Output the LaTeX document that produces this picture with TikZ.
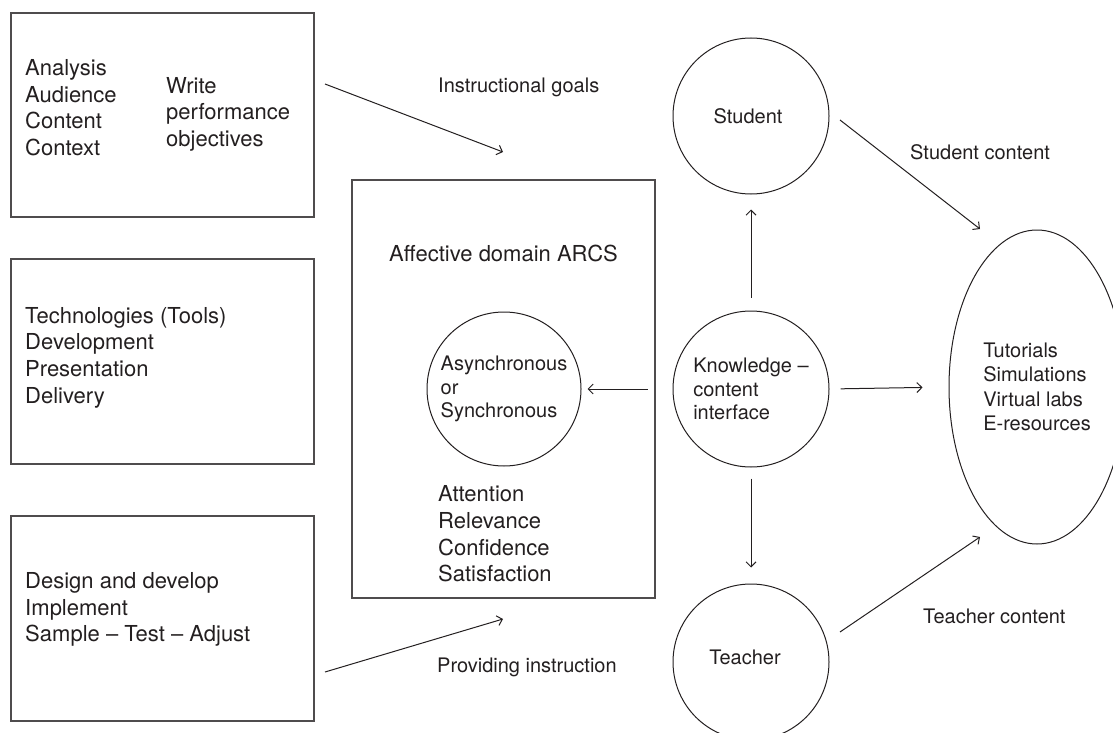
\documentclass[tikz,border=0pt]{standalone}
\usepackage{fontspec}
\setmainfont{TeX Gyre Heros}
\usetikzlibrary{shapes.geometric,arrows.meta}
\definecolor{ink}{HTML}{231F20}
\begin{document}
\begin{tikzpicture}[x=1pt,y=-1pt,
  conn/.style={draw=ink, line width=1pt, -{Straight Barb[length=5pt,width=10pt,line width=1pt]}},
  boxn/.style={draw=ink!80, line width=1.4pt, rectangle, inner sep=0},
  circ/.style={draw=ink, line width=1pt, circle, minimum size=156pt, inner sep=0, align=left, font=\fontsize{20}{23.8}\selectfont, text=ink},
  big/.style={font=\fontsize{22}{26.6}\selectfont, align=left, text=ink, inner sep=0},
  small/.style={font=\fontsize{20}{24}\selectfont, text=ink, inner sep=0}]
\useasboundingbox (0,0) rectangle (1113,733);
\clip (0,0) rectangle (1113,733);

% boxes
\node[boxn, minimum width=303pt, minimum height=204pt] (b1) at (162.5,115) {};
\node[boxn, minimum width=303pt, minimum height=205pt] (b2) at (162.5,361.5) {};
\node[boxn, minimum width=303pt, minimum height=205pt] (b3) at (162.5,618.5) {};
\node[boxn, minimum width=303pt, minimum height=418pt] (cb) at (503.5,389) {};

% box texts
\node[big, anchor=west] (t1a) at (25,107.5) {Analysis\\Audience\\Content\\Context};
\node[big, anchor=west] (t1b) at (166,114) {Write\\performance\\objectives};
\node[big, anchor=west] (t2) at (25,357.5) {Technologies (Tools)\\Development\\Presentation\\Delivery};
\node[big, anchor=west] (t3) at (25,609.5) {Design and develop\\Implement\\Sample -- Test -- Adjust};
\node[big] (arcs) at (503.5,253) {Affective domain ARCS};
\node[big, anchor=west] (arcsl) at (438,534) {Attention\\Relevance\\Confidence\\Satisfaction};

% circles
\node[circ, minimum size=154pt] (as) at (504,389) {Asynchronous\\or\\Synchronous};
\node[circ] (st) at (751,116) {Student\hspace*{6pt}};
\node[circ] (kn) at (751,389) {Knowledge --\\content\\interface};
\node[circ] (te) at (751,662) {\raisebox{10pt}{Teacher}\hspace*{12pt}};
\node[draw=ink, line width=1pt, ellipse, minimum width=176pt, minimum height=314pt, inner sep=0, align=left, font=\fontsize{20}{24.3}\selectfont, text=ink] (el) at (1037,387) {Tutorials\\Simulations\\Virtual labs\\E-resources};

% labels
\node[small, anchor=west] (lig) at (438,87) {Instructional goals};
\node[small, anchor=west] (lsc) at (910,152) {Student content};
\node[small, anchor=west] (ltc) at (923,616) {Teacher content};
\node[small, anchor=west] (lpi) at (437,667) {Providing instruction};

% free ends
\coordinate (ig1) at (325,84);
\coordinate (ig2) at (503,152);
\coordinate (pi1) at (325,672);
\coordinate (pi2) at (503,619);
\coordinate (sc1) at (840,120);
\coordinate (sc2) at (980,229);
\coordinate (tc1) at (840,632);
\coordinate (tc2) at (980,537);

% connectors
\draw[conn] (ig1) -- (ig2);
\draw[conn] (pi1) -- (pi2);
\draw[conn] (sc1) -- (sc2);
\draw[conn] (tc1) -- (tc2);
\draw[conn, shorten <=25pt, shorten >=6pt] (kn.west) -- (as.east);
\draw[conn, shorten <=13pt, shorten >=15pt] (kn.north) -- (st.south);
\draw[conn, shorten <=11pt, shorten >=16pt] (kn.south) -- (te.north);
\draw[conn, shorten <=11pt, shorten >=26pt] (kn.east) -- (el.west);
\end{tikzpicture}
\end{document}
